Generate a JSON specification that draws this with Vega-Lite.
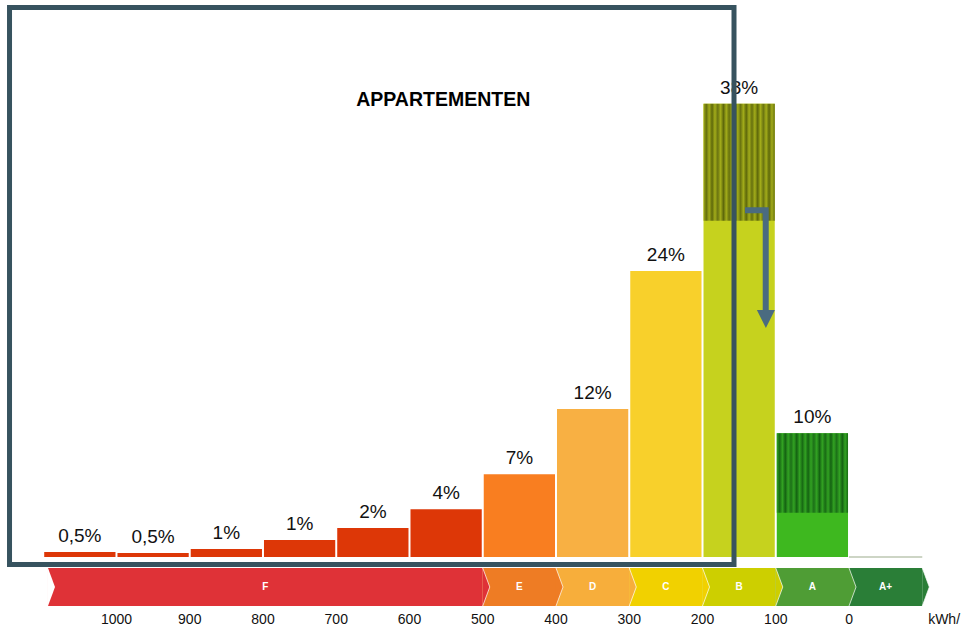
{
  "$schema": "https://vega.github.io/schema/vega-lite/v6.json",
  "width": 963,
  "height": 629,
  "padding": 0,
  "autosize": {"type": "none"},
  "background": "white",
  "config": {"view": {"stroke": null}},
  "datasets": {
    "bars": [
      {"lo": 1000, "hi": 1100, "mid": 1050, "pct": 0.42, "base": 0, "label": "0,5%", "cls": "F"},
      {"lo": 900, "hi": 1000, "mid": 950, "pct": 0.34, "base": 0, "label": "0,5%", "cls": "F"},
      {"lo": 800, "hi": 900, "mid": 850, "pct": 0.67, "base": 0, "label": "1%", "cls": "F"},
      {"lo": 700, "hi": 800, "mid": 750, "pct": 1.42, "base": 0, "label": "1%", "cls": "F"},
      {"lo": 600, "hi": 700, "mid": 650, "pct": 2.43, "base": 0, "label": "2%", "cls": "F"},
      {"lo": 500, "hi": 600, "mid": 550, "pct": 4.0, "base": 0, "label": "4%", "cls": "F"},
      {"lo": 400, "hi": 500, "mid": 450, "pct": 6.93, "base": 0, "label": "7%", "cls": "E"},
      {"lo": 300, "hi": 400, "mid": 350, "pct": 12.4, "base": 0, "label": "12%", "cls": "D"},
      {"lo": 200, "hi": 300, "mid": 250, "pct": 23.98, "base": 0, "label": "24%", "cls": "C"},
      {"lo": 100, "hi": 200, "mid": 150, "pct": 38.0, "base": 0, "label": "38%", "cls": "B"},
      {"lo": 0, "hi": 100, "mid": 50, "pct": 10.37, "base": 0, "label": "10%", "cls": "A"}
    ],
    "hatch": [
      {"lo": 100, "hi": 200, "from": 28.19, "to": 38.0, "cls": "B"},
      {"lo": 0, "hi": 100, "from": 3.71, "to": 10.37, "cls": "A"}
    ],
    "band": [
      {"cls": "F", "lo": 500, "hi": 1093.5, "mid": 796.75, "top": -0.92, "bot": -4.11, "c": -2.515},
      {"cls": "E", "lo": 400, "hi": 500, "mid": 450, "top": -0.92, "bot": -4.11, "c": -2.515},
      {"cls": "D", "lo": 300, "hi": 400, "mid": 350, "top": -0.92, "bot": -4.11, "c": -2.515},
      {"cls": "C", "lo": 200, "hi": 300, "mid": 250, "top": -0.92, "bot": -4.11, "c": -2.515},
      {"cls": "B", "lo": 100, "hi": 200, "mid": 150, "top": -0.92, "bot": -4.11, "c": -2.515},
      {"cls": "A", "lo": 0, "hi": 100, "mid": 50, "top": -0.92, "bot": -4.11, "c": -2.515},
      {"cls": "A+", "lo": -100, "hi": 0, "mid": -50, "top": -0.92, "bot": -4.11, "c": -2.515}
    ],
    "ticks": [
      {"v": 1000, "y": -5.28}, {"v": 900, "y": -5.28}, {"v": 800, "y": -5.28}, {"v": 700, "y": -5.28}, {"v": 600, "y": -5.28},
      {"v": 500, "y": -5.28}, {"v": 400, "y": -5.28}, {"v": 300, "y": -5.28}, {"v": 200, "y": -5.28}, {"v": 100, "y": -5.28}, {"v": 0, "y": -5.28}
    ],
    "baseline": [{"x1": 0, "x2": -100, "y": 0}],
    "frame": [{"x1": 1146, "x2": 157, "y1": 46.06, "y2": -0.63}],
    "arrow": [
      {"o": 0, "x": 142, "y": 29.07},
      {"o": 1, "x": 113.7, "y": 29.07},
      {"o": 2, "x": 113.7, "y": 20.6}
    ],
    "arrowhead": [{"x": 113.5, "y": 19.95}],
    "notes": [
      {"t": "APPARTEMENTEN", "x": 554, "y": 38.3, "kind": "title"},
      {"t": "kWh/ (m².jaar)", "x": -108, "y": -5.28, "kind": "unit"}
    ]
  },
  "layer": [
    {
      "data": {"name": "bars"},
      "mark": {"type": "rect", "xOffset": 1, "x2Offset": -1},
      "encoding": {
        "x": {"field": "hi", "type": "quantitative", "scale": {"domain": [-155.6, 1159], "reverse": true, "nice": false, "zero": false}, "axis": null},
        "x2": {"field": "lo"},
        "y": {"field": "pct", "type": "quantitative", "scale": {"domain": [-6.035, 46.69], "nice": false, "zero": false}, "axis": null},
        "y2": {"field": "base"},
        "color": {"field": "cls", "type": "nominal", "scale": {"domain": ["F", "E", "D", "C", "B", "A"], "range": ["#DD3707", "#F97E20", "#F8B043", "#F8D02B", "#C6D21E", "#3EB81F"]}, "legend": null}
      }
    },
    {
      "data": {"name": "hatch"},
      "transform": [{"filter": "datum.cls == 'B'"}],
      "mark": {"type": "rect", "xOffset": 1, "x2Offset": -1, "fill": {"gradient": "linear", "x1": 0, "y1": 0, "x2": 1, "y2": 0, "stops": [
        {"offset": 0, "color": "#A2AC1A"}, {"offset": 0.04, "color": "#66700E"}, {"offset": 0.08, "color": "#A2AC1A"}, {"offset": 0.12, "color": "#5E680A"},
        {"offset": 0.16, "color": "#A2AC1A"}, {"offset": 0.2, "color": "#6A7410"}, {"offset": 0.24, "color": "#A2AC1A"}, {"offset": 0.28, "color": "#5E680A"},
        {"offset": 0.32, "color": "#A2AC1A"}, {"offset": 0.36, "color": "#66700E"}, {"offset": 0.4, "color": "#A2AC1A"}, {"offset": 0.44, "color": "#5E680A"},
        {"offset": 0.48, "color": "#A2AC1A"}, {"offset": 0.52, "color": "#6A7410"}, {"offset": 0.56, "color": "#A2AC1A"}, {"offset": 0.6, "color": "#5E680A"},
        {"offset": 0.64, "color": "#A2AC1A"}, {"offset": 0.68, "color": "#66700E"}, {"offset": 0.72, "color": "#A2AC1A"}, {"offset": 0.76, "color": "#5E680A"},
        {"offset": 0.8, "color": "#A2AC1A"}, {"offset": 0.84, "color": "#6A7410"}, {"offset": 0.88, "color": "#A2AC1A"}, {"offset": 0.92, "color": "#5E680A"},
        {"offset": 0.96, "color": "#A2AC1A"}, {"offset": 1, "color": "#66700E"}]}},
      "encoding": {
        "x": {"field": "hi", "type": "quantitative", "scale": {"domain": [-155.6, 1159], "reverse": true, "nice": false, "zero": false}, "axis": null},
        "x2": {"field": "lo"},
        "y": {"field": "to", "type": "quantitative", "scale": {"domain": [-6.035, 46.69], "nice": false, "zero": false}, "axis": null},
        "y2": {"field": "from"}
      }
    },
    {
      "data": {"name": "hatch"},
      "transform": [{"filter": "datum.cls == 'A'"}],
      "mark": {"type": "rect", "xOffset": 1, "x2Offset": -1, "fill": {"gradient": "linear", "x1": 0, "y1": 0, "x2": 1, "y2": 0, "stops": [
        {"offset": 0, "color": "#32A222"}, {"offset": 0.04, "color": "#186A14"}, {"offset": 0.08, "color": "#32A222"}, {"offset": 0.12, "color": "#146212"},
        {"offset": 0.16, "color": "#32A222"}, {"offset": 0.2, "color": "#1C7018"}, {"offset": 0.24, "color": "#32A222"}, {"offset": 0.28, "color": "#146212"},
        {"offset": 0.32, "color": "#32A222"}, {"offset": 0.36, "color": "#186A14"}, {"offset": 0.4, "color": "#32A222"}, {"offset": 0.44, "color": "#146212"},
        {"offset": 0.48, "color": "#32A222"}, {"offset": 0.52, "color": "#1C7018"}, {"offset": 0.56, "color": "#32A222"}, {"offset": 0.6, "color": "#146212"},
        {"offset": 0.64, "color": "#32A222"}, {"offset": 0.68, "color": "#186A14"}, {"offset": 0.72, "color": "#32A222"}, {"offset": 0.76, "color": "#146212"},
        {"offset": 0.8, "color": "#32A222"}, {"offset": 0.84, "color": "#1C7018"}, {"offset": 0.88, "color": "#32A222"}, {"offset": 0.92, "color": "#146212"},
        {"offset": 0.96, "color": "#32A222"}, {"offset": 1, "color": "#186A14"}]}},
      "encoding": {
        "x": {"field": "hi", "type": "quantitative", "scale": {"domain": [-155.6, 1159], "reverse": true, "nice": false, "zero": false}, "axis": null},
        "x2": {"field": "lo"},
        "y": {"field": "to", "type": "quantitative", "scale": {"domain": [-6.035, 46.69], "nice": false, "zero": false}, "axis": null},
        "y2": {"field": "from"}
      }
    },
    {
      "data": {"name": "baseline"},
      "mark": {"type": "rule", "color": "#CDD5C5", "strokeWidth": 2},
      "encoding": {
        "x": {"field": "x1", "type": "quantitative", "scale": {"domain": [-155.6, 1159], "reverse": true, "nice": false, "zero": false}, "axis": null},
        "x2": {"field": "x2"},
        "y": {"field": "y", "type": "quantitative", "scale": {"domain": [-6.035, 46.69], "nice": false, "zero": false}, "axis": null}
      }
    },
    {
      "data": {"name": "bars"},
      "mark": {"type": "text", "baseline": "alphabetic", "dy": -10, "fontSize": 19, "font": "Liberation Sans", "color": "#111111"},
      "encoding": {
        "x": {"field": "mid", "type": "quantitative", "scale": {"domain": [-155.6, 1159], "reverse": true, "nice": false, "zero": false}, "axis": null},
        "y": {"field": "pct", "type": "quantitative", "scale": {"domain": [-6.035, 46.69], "nice": false, "zero": false}, "axis": null},
        "text": {"field": "label", "type": "nominal"}
      }
    },
    {
      "data": {"name": "band"},
      "mark": {"type": "rect"},
      "encoding": {
        "x": {"field": "hi", "type": "quantitative", "scale": {"domain": [-155.6, 1159], "reverse": true, "nice": false, "zero": false}, "axis": null},
        "x2": {"field": "lo"},
        "y": {"field": "top", "type": "quantitative", "scale": {"domain": [-6.035, 46.69], "nice": false, "zero": false}, "axis": null},
        "y2": {"field": "bot"},
        "fill": {"field": "cls", "type": "nominal", "scale": {"domain": ["F", "E", "D", "C", "B", "A", "A+"], "range": ["#DF3237", "#EE7C24", "#F7AE3B", "#F1D100", "#CDCF00", "#4F9D35", "#2A7E37"]}, "legend": null}
      }
    },
    {
      "data": {"name": "band"},
      "mark": {"type": "point", "filled": true, "opacity": 1, "shape": "M0,-1L0.37,0L0,1Z", "size": 1444, "strokeWidth": 0},
      "encoding": {
        "x": {"field": "lo", "type": "quantitative", "scale": {"domain": [-155.6, 1159], "reverse": true, "nice": false, "zero": false}, "axis": null},
        "y": {"field": "c", "type": "quantitative", "scale": {"domain": [-6.035, 46.69], "nice": false, "zero": false}, "axis": null},
        "fill": {"field": "cls", "type": "nominal", "scale": {"domain": ["F", "E", "D", "C", "B", "A", "A+"], "range": ["#DF3237", "#EE7C24", "#F7AE3B", "#F1D100", "#CDCF00", "#4F9D35", "#2A7E37"]}, "legend": null}
      }
    },
    {
      "data": {"name": "band"},
      "mark": {"type": "point", "filled": false, "opacity": 1, "shape": "M0,-1L0.37,0L0,1", "size": 1444, "stroke": "#FFFFFF", "strokeWidth": 1, "strokeOpacity": 0.7},
      "encoding": {
        "x": {"field": "lo", "type": "quantitative", "scale": {"domain": [-155.6, 1159], "reverse": true, "nice": false, "zero": false}, "axis": null},
        "y": {"field": "c", "type": "quantitative", "scale": {"domain": [-6.035, 46.69], "nice": false, "zero": false}, "axis": null}
      }
    },
    {
      "data": {"name": "band"},
      "transform": [{"filter": "datum.cls == 'F'"}],
      "mark": {"type": "point", "filled": true, "opacity": 1, "fill": "#FFFFFF", "shape": "M0,-1L0.37,0L0,1Z", "size": 1444, "strokeWidth": 0},
      "encoding": {
        "x": {"field": "hi", "type": "quantitative", "scale": {"domain": [-155.6, 1159], "reverse": true, "nice": false, "zero": false}, "axis": null},
        "y": {"field": "c", "type": "quantitative", "scale": {"domain": [-6.035, 46.69], "nice": false, "zero": false}, "axis": null}
      }
    },
    {
      "data": {"name": "band"},
      "mark": {"type": "text", "fill": "#FFFFFF", "fontWeight": "bold", "fontSize": 10, "font": "Liberation Sans", "baseline": "middle", "align": "center"},
      "encoding": {
        "x": {"field": "mid", "type": "quantitative", "scale": {"domain": [-155.6, 1159], "reverse": true, "nice": false, "zero": false}, "axis": null},
        "y": {"field": "c", "type": "quantitative", "scale": {"domain": [-6.035, 46.69], "nice": false, "zero": false}, "axis": null},
        "text": {"field": "cls", "type": "nominal"}
      }
    },
    {
      "data": {"name": "ticks"},
      "mark": {"type": "text", "fill": "#111111", "fontSize": 14, "font": "Liberation Sans", "baseline": "middle", "align": "center"},
      "encoding": {
        "x": {"field": "v", "type": "quantitative", "scale": {"domain": [-155.6, 1159], "reverse": true, "nice": false, "zero": false}, "axis": null},
        "y": {"field": "y", "type": "quantitative", "scale": {"domain": [-6.035, 46.69], "nice": false, "zero": false}, "axis": null},
        "text": {"field": "v", "type": "nominal"}
      }
    },
    {
      "data": {"name": "notes"},
      "transform": [{"filter": "datum.kind == 'unit'"}],
      "mark": {"type": "text", "fill": "#111111", "fontSize": 14, "font": "Liberation Sans", "baseline": "middle", "align": "left"},
      "encoding": {
        "x": {"field": "x", "type": "quantitative", "scale": {"domain": [-155.6, 1159], "reverse": true, "nice": false, "zero": false}, "axis": null},
        "y": {"field": "y", "type": "quantitative", "scale": {"domain": [-6.035, 46.69], "nice": false, "zero": false}, "axis": null},
        "text": {"field": "t", "type": "nominal"}
      }
    },
    {
      "data": {"name": "notes"},
      "transform": [{"filter": "datum.kind == 'title'"}],
      "mark": {"type": "text", "fill": "#000000", "fontSize": 19.5, "fontWeight": "bold", "font": "Liberation Sans", "baseline": "middle", "align": "center"},
      "encoding": {
        "x": {"field": "x", "type": "quantitative", "scale": {"domain": [-155.6, 1159], "reverse": true, "nice": false, "zero": false}, "axis": null},
        "y": {"field": "y", "type": "quantitative", "scale": {"domain": [-6.035, 46.69], "nice": false, "zero": false}, "axis": null},
        "text": {"field": "t", "type": "nominal"}
      }
    },
    {
      "data": {"name": "frame"},
      "mark": {"type": "rect", "fill": "transparent", "stroke": "#37535F", "strokeWidth": 5},
      "encoding": {
        "x": {"field": "x1", "type": "quantitative", "scale": {"domain": [-155.6, 1159], "reverse": true, "nice": false, "zero": false}, "axis": null},
        "x2": {"field": "x2"},
        "y": {"field": "y1", "type": "quantitative", "scale": {"domain": [-6.035, 46.69], "nice": false, "zero": false}, "axis": null},
        "y2": {"field": "y2"}
      }
    },
    {
      "data": {"name": "arrow"},
      "mark": {"type": "line", "stroke": "#4A6B80", "strokeWidth": 6, "strokeCap": "butt", "strokeJoin": "miter"},
      "encoding": {
        "x": {"field": "x", "type": "quantitative", "scale": {"domain": [-155.6, 1159], "reverse": true, "nice": false, "zero": false}, "axis": null},
        "y": {"field": "y", "type": "quantitative", "scale": {"domain": [-6.035, 46.69], "nice": false, "zero": false}, "axis": null},
        "order": {"field": "o", "type": "quantitative"}
      }
    },
    {
      "data": {"name": "arrowhead"},
      "mark": {"type": "point", "filled": true, "opacity": 1, "fill": "#4A6B80", "shape": "M-1,-1L1,-1L0,1Z", "size": 324, "strokeWidth": 0},
      "encoding": {
        "x": {"field": "x", "type": "quantitative", "scale": {"domain": [-155.6, 1159], "reverse": true, "nice": false, "zero": false}, "axis": null},
        "y": {"field": "y", "type": "quantitative", "scale": {"domain": [-6.035, 46.69], "nice": false, "zero": false}, "axis": null}
      }
    }
  ]
}
